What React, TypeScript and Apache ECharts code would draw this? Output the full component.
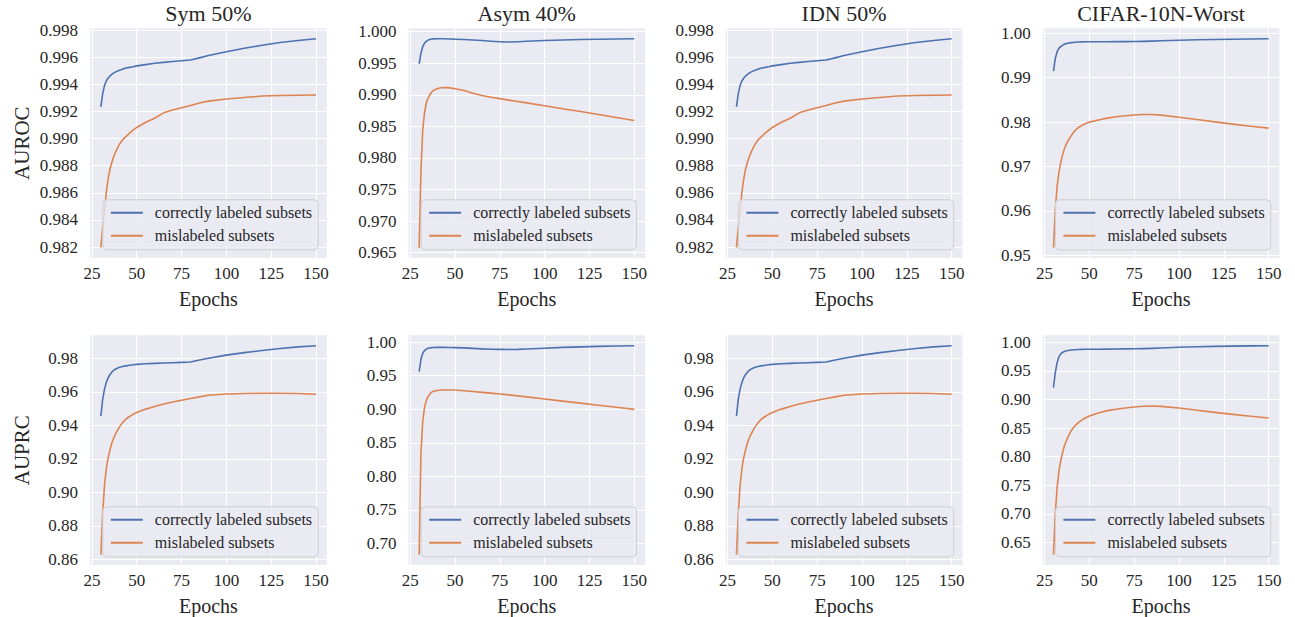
import React, { useEffect, useRef } from 'react';
import * as echarts from 'echarts';

// ---------------- data ----------------
const epochs = [30, 31, 32, 33, 34, 35, 36, 37, 38, 40, 42, 44, 46, 48, 50, 55, 60, 65, 70, 75, 80, 85, 90, 100, 110, 120, 130, 140, 150];
const xTicks = [25, 50, 75, 100, 125, 150];

const symRocCorrect = [0.99234, 0.9933, 0.9939, 0.99425, 0.99445, 0.9946, 0.99472, 0.99482, 0.9949, 0.99502, 0.99512, 0.9952, 0.99525, 0.9953, 0.99536, 0.99545, 0.99555, 0.99562, 0.99568, 0.99574, 0.99579, 0.99595, 0.99612, 0.9964, 0.99666, 0.99688, 0.99708, 0.99723, 0.99736];
const symRocMis = [0.98196, 0.9834, 0.9845, 0.986, 0.987, 0.9877, 0.9882, 0.9886, 0.98895, 0.9895, 0.9899, 0.99015, 0.9904, 0.99062, 0.99082, 0.9912, 0.9915, 0.9919, 0.9921, 0.99228, 0.99244, 0.99262, 0.99276, 0.99292, 0.99303, 0.99314, 0.99318, 0.99319, 0.99321];

const asymRocCorrect = [0.9949, 0.9966, 0.99763, 0.9982, 0.9985, 0.99868, 0.99878, 0.99884, 0.99887, 0.99889, 0.99889, 0.99888, 0.99886, 0.99884, 0.99882, 0.99878, 0.9987, 0.9986, 0.9985, 0.99842, 0.99837, 0.99842, 0.9985, 0.99862, 0.9987, 0.99877, 0.99882, 0.99886, 0.99889];
const asymRocMis = [0.96579, 0.978, 0.98448, 0.9872, 0.98875, 0.9895, 0.99005, 0.99045, 0.9907, 0.99098, 0.99113, 0.99117, 0.99114, 0.99106, 0.99097, 0.99068, 0.99025, 0.9899, 0.98962, 0.9894, 0.98917, 0.98896, 0.98873, 0.98827, 0.9878, 0.98735, 0.9869, 0.9864, 0.98595];

const idnRocCorrect = [0.99234, 0.9933, 0.9939, 0.99425, 0.99445, 0.9946, 0.99472, 0.99482, 0.9949, 0.99502, 0.99512, 0.9952, 0.99525, 0.9953, 0.99536, 0.99545, 0.99555, 0.99562, 0.99568, 0.99574, 0.99579, 0.99595, 0.99612, 0.9964, 0.99666, 0.99688, 0.99708, 0.99723, 0.99736];
const idnRocMis = [0.98196, 0.9834, 0.9845, 0.986, 0.987, 0.9877, 0.9882, 0.9886, 0.98895, 0.9895, 0.9899, 0.99015, 0.9904, 0.99062, 0.99082, 0.9912, 0.9915, 0.9919, 0.9921, 0.99228, 0.99244, 0.99262, 0.99276, 0.99292, 0.99303, 0.99314, 0.99318, 0.99319, 0.99321];

const cifarRocCorrect = [0.9915, 0.9943, 0.9958, 0.9966, 0.997, 0.9973, 0.99755, 0.99768, 0.99778, 0.9979, 0.99798, 0.99804, 0.99808, 0.9981, 0.99811, 0.99812, 0.99812, 0.99813, 0.99814, 0.99815, 0.99818, 0.99824, 0.99832, 0.99845, 0.99854, 0.99861, 0.99867, 0.99872, 0.99878];
const cifarRocMis = [0.95173, 0.96, 0.9654, 0.9685, 0.9708, 0.9725, 0.9739, 0.9749, 0.9757, 0.977, 0.9781, 0.9788, 0.9793, 0.9797, 0.98, 0.9805, 0.9809, 0.9812, 0.98145, 0.9816, 0.98172, 0.98172, 0.98158, 0.9811, 0.98058, 0.98005, 0.97955, 0.97908, 0.97864];

const symPrcCorrect = [0.9455, 0.9555, 0.9615, 0.9655, 0.9683, 0.9702, 0.9716, 0.9727, 0.9735, 0.9745, 0.9751, 0.9755, 0.9759, 0.9762, 0.9764, 0.9768, 0.977, 0.9772, 0.9774, 0.9776, 0.9778, 0.979, 0.98, 0.9819, 0.9834, 0.9847, 0.9859, 0.9868, 0.9875];
const symPrcMis = [0.8629, 0.887, 0.9039, 0.914, 0.9205, 0.925, 0.929, 0.932, 0.9345, 0.9385, 0.9415, 0.9438, 0.9453, 0.9466, 0.9477, 0.9497, 0.9513, 0.9527, 0.9539, 0.955, 0.956, 0.957, 0.958, 0.9587, 0.959, 0.9592, 0.9592, 0.959, 0.9586];

const asymPrcCorrect = [0.9562, 0.9745, 0.9835, 0.9875, 0.9897, 0.9908, 0.9914, 0.9918, 0.992, 0.9922, 0.9922, 0.9922, 0.9921, 0.992, 0.9918, 0.9914, 0.9907, 0.99, 0.9895, 0.9892, 0.9891, 0.9893, 0.9898, 0.991, 0.9922, 0.993, 0.9937, 0.9942, 0.99464];
const asymPrcMis = [0.6834, 0.835, 0.882, 0.903, 0.913, 0.919, 0.923, 0.9255, 0.9268, 0.928, 0.9286, 0.9288, 0.9288, 0.9288, 0.9286, 0.9276, 0.9264, 0.9252, 0.924, 0.9227, 0.9214, 0.92, 0.9184, 0.9153, 0.9122, 0.9091, 0.906, 0.9029, 0.89985];

const idnPrcCorrect = [0.9455, 0.9555, 0.9615, 0.9655, 0.9683, 0.9702, 0.9716, 0.9727, 0.9735, 0.9745, 0.9751, 0.9755, 0.9759, 0.9762, 0.9764, 0.9768, 0.977, 0.9772, 0.9774, 0.9776, 0.9778, 0.979, 0.98, 0.9819, 0.9834, 0.9847, 0.9859, 0.9868, 0.9875];
const idnPrcMis = [0.8629, 0.887, 0.9039, 0.914, 0.9205, 0.925, 0.929, 0.932, 0.9345, 0.9385, 0.9415, 0.9438, 0.9453, 0.9466, 0.9477, 0.9497, 0.9513, 0.9527, 0.9539, 0.955, 0.956, 0.957, 0.958, 0.9587, 0.959, 0.9592, 0.9592, 0.959, 0.9586];

const cifarPrcCorrect = [0.9207, 0.9468, 0.9641, 0.9745, 0.9795, 0.9823, 0.984, 0.985, 0.9858, 0.9866, 0.9871, 0.9875, 0.9877, 0.9878, 0.9879, 0.988, 0.9882, 0.9884, 0.9886, 0.9888, 0.989, 0.9895, 0.9902, 0.9914, 0.9923, 0.9929, 0.9934, 0.99375, 0.99405];
const cifarPrcMis = [0.6285, 0.7, 0.744, 0.773, 0.792, 0.806, 0.818, 0.826, 0.834, 0.846, 0.854, 0.86, 0.8645, 0.868, 0.871, 0.8765, 0.8805, 0.883, 0.8852, 0.8868, 0.8882, 0.8885, 0.888, 0.885, 0.8812, 0.8775, 0.874, 0.8707, 0.8675];

const symRocTicks = [0.982, 0.984, 0.986, 0.988, 0.99, 0.992, 0.994, 0.996, 0.998];
const asymRocTicks = [0.965, 0.97, 0.975, 0.98, 0.985, 0.99, 0.995, 1.0];
const cifarRocTicks = [0.95, 0.96, 0.97, 0.98, 0.99, 1.0];
const symPrcTicks = [0.86, 0.88, 0.9, 0.92, 0.94, 0.96, 0.98];
const asymPrcTicks = [0.7, 0.75, 0.8, 0.85, 0.9, 0.95, 1.0];
const cifarPrcTicks = [0.65, 0.7, 0.75, 0.8, 0.85, 0.9, 0.95, 1.0];

const titles = ['Sym 50%', 'Asym 40%', 'IDN 50%', 'CIFAR-10N-Worst'];
const rowLabels = ['AUROC', 'AUPRC'];
const seriesNames = ['correctly labeled subsets', 'mislabeled subsets'];

const panels = [
  { correct: symRocCorrect, mis: symRocMis, ticks: symRocTicks, dec: 3 },
  { correct: asymRocCorrect, mis: asymRocMis, ticks: asymRocTicks, dec: 3 },
  { correct: idnRocCorrect, mis: idnRocMis, ticks: symRocTicks, dec: 3 },
  { correct: cifarRocCorrect, mis: cifarRocMis, ticks: cifarRocTicks, dec: 2 },
  { correct: symPrcCorrect, mis: symPrcMis, ticks: symPrcTicks, dec: 2 },
  { correct: asymPrcCorrect, mis: asymPrcMis, ticks: asymPrcTicks, dec: 2 },
  { correct: idnPrcCorrect, mis: idnPrcMis, ticks: symPrcTicks, dec: 2 },
  { correct: cifarPrcCorrect, mis: cifarPrcMis, ticks: cifarPrcTicks, dec: 2 },
];

// ---------------- layout / style ----------------
const W = 1295;
const H = 617;
const colLeft = [90.1, 408.4, 725.7, 1042.7];
const plotW = 236.7;
const rowTop = [28.3, 335.3];
const plotH = 229.8;
const FONT = 'Liberation Serif';
const TXT = '#262626';
const BLUE = '#4C72B0';
const ORANGE = '#DD8452';

function buildOption() {
  const grid: any[] = [];
  const xAxis: any[] = [];
  const yAxis: any[] = [];
  const series: any[] = [];
  const legend: any[] = [];
  const graphic: any[] = [];

  panels.forEach((p, i) => {
    const col = i % 4;
    const row = Math.floor(i / 4);
    const left = colLeft[col];
    const top = rowTop[row];
    grid.push({
      left, top, width: plotW, height: plotH,
      show: true, backgroundColor: '#EAEAF2', borderWidth: 0,
      containLabel: false, outerBoundsMode: 'none',
    });
    const all = p.correct.concat(p.mis);
    const lo = Math.min(...all);
    const hi = Math.max(...all);
    const m = (hi - lo) * 0.05;
    const xr = epochs[epochs.length - 1] - epochs[0];
    xAxis.push({
      type: 'value', gridIndex: i,
      min: epochs[0] - xr * 0.05, max: epochs[epochs.length - 1] + xr * 0.05,
      axisLine: { show: false },
      axisTick: { show: false, customValues: xTicks },
      axisLabel: { customValues: xTicks, color: TXT, fontFamily: FONT, fontSize: 17, margin: 7 },
      splitLine: { show: true, lineStyle: { color: '#ffffff', width: 1.1 } },
    });
    yAxis.push({
      type: 'value', gridIndex: i,
      min: lo - m, max: hi + m,
      axisLine: { show: false },
      axisTick: { show: false, customValues: p.ticks },
      axisLabel: {
        customValues: p.ticks, color: TXT, fontFamily: FONT, fontSize: 17, margin: 12,
        formatter: (v: number) => v.toFixed(p.dec),
      },
      splitLine: { show: true, lineStyle: { color: '#ffffff', width: 1.1 } },
    });
    [p.correct, p.mis].forEach((arr, k) => {
      series.push({
        type: 'line', name: seriesNames[k], xAxisIndex: i, yAxisIndex: i,
        data: epochs.map((e, j) => [e, arr[j]]),
        symbol: 'none', showSymbol: false, smooth: false,
        lineStyle: { color: k === 0 ? BLUE : ORANGE, width: 1.6, join: 'round' },
        itemStyle: { color: k === 0 ? BLUE : ORANGE },
        emphasis: { disabled: true },
        silent: true,
      });
    });
    legend.push({
      orient: 'vertical',
      right: W - (left + plotW - 8.7),
      bottom: H - (top + plotH - 8.3),
      data: seriesNames,
      selectedMode: false,
      itemWidth: 32, itemHeight: 18, itemGap: 5,
      padding: [4, 6, 5, 7],
      backgroundColor: 'rgba(234,234,242,0.8)',
      borderColor: '#cfcfcf', borderWidth: 1, borderRadius: 4,
      itemStyle: { opacity: 0 },
      textStyle: { fontFamily: FONT, fontSize: 16, color: TXT, padding: [0, 0, 0, 7], lineHeight: 18 },
    });
    if (row === 0) {
      graphic.push({
        type: 'text', x: left + plotW / 2, y: 13,
        style: { text: titles[col], fontFamily: FONT, fontSize: 22, fill: TXT, align: 'center', verticalAlign: 'middle' },
      });
    }
    graphic.push({
      type: 'text', x: left + plotW / 2, y: top + plotH + 40.5,
      style: { text: 'Epochs', fontFamily: FONT, fontSize: 20, fill: TXT, align: 'center', verticalAlign: 'middle' },
    });
    if (col === 0) {
      graphic.push({
        type: 'text', x: 22, y: top + plotH / 2, rotation: Math.PI / 2,
        style: { text: rowLabels[row], fontFamily: FONT, fontSize: 21, fill: TXT, align: 'center', verticalAlign: 'middle' },
      });
    }
  });

  return {
    animation: false,
    backgroundColor: '#ffffff',
    textStyle: { fontFamily: FONT },
    grid, xAxis, yAxis, series, legend, graphic,
  };
}

export default function App() {
  const ref = useRef<HTMLDivElement>(null);
  useEffect(() => {
    if (!ref.current) return;
    const chart = echarts.init(ref.current, undefined, { renderer: 'svg' });
    chart.setOption(buildOption() as any);
    return () => chart.dispose();
  }, []);
  return <div ref={ref} style={{ position: 'fixed', left: 0, top: 0, width: W, height: H }} />;
}
